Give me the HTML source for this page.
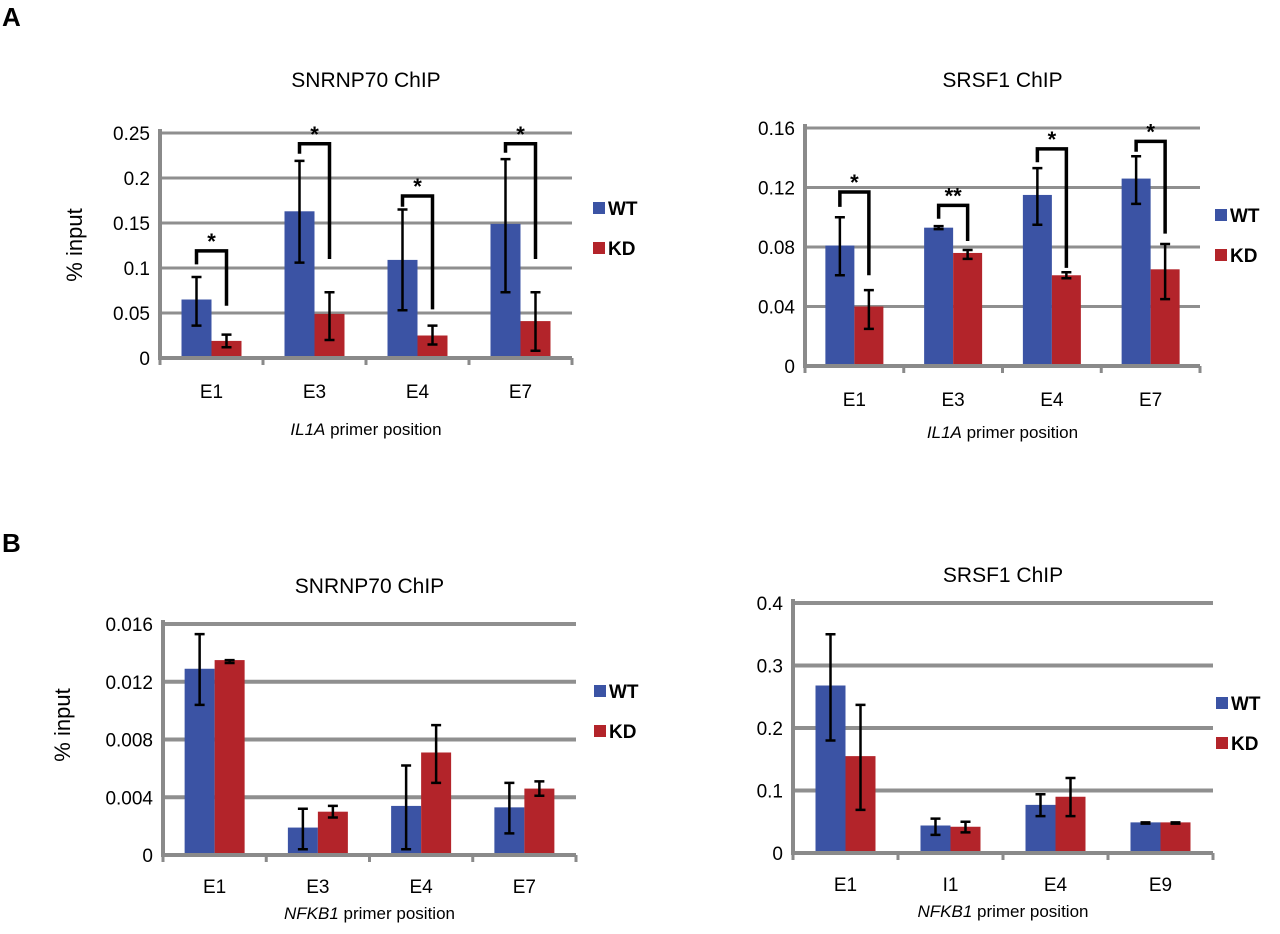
<!DOCTYPE html>
<html><head><meta charset="utf-8"><style>
body{margin:0;background:#fff;width:1280px;height:929px;overflow:hidden;font-family:"Liberation Sans",Arial,sans-serif}
svg text{font-family:"Liberation Sans",Arial,sans-serif}
</style></head><body>
<svg id="fig" width="1280" height="929" xmlns="http://www.w3.org/2000/svg">
<text x="2" y="26" font-size="26" font-weight="bold">A</text>
<text x="2" y="552" font-size="26" font-weight="bold">B</text>
</svg>
<script>
// Panel A left: SNRNP70 ChIP IL1A
const aLCats=["E1","E3","E4","E7"];
const aLWT=[0.065,0.163,0.109,0.149];
const aLWTlo=[0.036,0.106,0.053,0.073];
const aLWThi=[0.09,0.219,0.165,0.221];
const aLKD=[0.019,0.049,0.025,0.041];
const aLKDlo=[0.012,0.02,0.015,0.008];
const aLKDhi=[0.026,0.073,0.036,0.073];
const aLTicks=["0","0.05","0.1","0.15","0.2","0.25"];
const aLSig=["*","*","*","*"];
const aLBrTop=[0.119,0.238,0.18,0.238];
const aLBrL=[0.104,0.227,0.168,0.228];
const aLBrR=[0.058,0.11,0.054,0.11];
// Panel A right: SRSF1 ChIP IL1A
const aRCats=["E1","E3","E4","E7"];
const aRWT=[0.081,0.093,0.115,0.126];
const aRWTlo=[0.061,0.092,0.095,0.109];
const aRWThi=[0.1,0.094,0.133,0.141];
const aRKD=[0.04,0.076,0.061,0.065];
const aRKDlo=[0.025,0.072,0.059,0.045];
const aRKDhi=[0.051,0.078,0.063,0.082];
const aRTicks=["0","0.04","0.08","0.12","0.16"];
const aRSig=["*","**","*","*"];
const aRBrTop=[0.117,0.108,0.146,0.151];
const aRBrL=[0.107,0.099,0.137,0.144];
const aRBrR=[0.061,0.084,0.066,0.089];
// Panel B left: SNRNP70 ChIP NFKB1
const bLCats=["E1","E3","E4","E7"];
const bLWT=[0.0129,0.0019,0.0034,0.0033];
const bLWTlo=[0.0104,0.0004,0.0004,0.0015];
const bLWThi=[0.0153,0.0032,0.0062,0.005];
const bLKD=[0.0135,0.003,0.0071,0.0046];
const bLKDlo=[0.0133,0.0026,0.005,0.0041];
const bLKDhi=[0.0135,0.0034,0.009,0.0051];
const bLTicks=["0","0.004","0.008","0.012","0.016"];
// Panel B right: SRSF1 ChIP NFKB1
const bRCats=["E1","I1","E4","E9"];
const bRWT=[0.268,0.044,0.077,0.049];
const bRWTlo=[0.18,0.029,0.059,0.047];
const bRWThi=[0.35,0.055,0.094,0.049];
const bRKD=[0.155,0.042,0.09,0.049];
const bRKDlo=[0.069,0.033,0.059,0.047];
const bRKDhi=[0.237,0.05,0.12,0.049];
const bRTicks=["0","0.1","0.2","0.3","0.4"];

const NS="http://www.w3.org/2000/svg";
const svg=document.getElementById('fig');
function mk(tag,attrs,parent){const e=document.createElementNS(NS,tag);for(const k in attrs)e.setAttribute(k,attrs[k]);(parent||svg).appendChild(e);return e;}

function chart(c){
  const g=mk('g',{});
  
  
  const max=parseFloat(c.ticks[c.ticks.length-1]);
  const y=v=>c.y0-(v/max)*(c.y0-c.yTop);
  const gw=(c.x1-c.x0)/c.cats.length;
  const cx=i=>c.x0+gw*(i+0.5);
  const bw=c.bw;
  const t=mk('text',{x:(c.x0+c.x1)/2,y:c.titleY,'font-size':21,'text-anchor':'middle'},g);
  t.textContent=c.title;
  
  
  c.ticks.forEach((tk,i)=>{
    const yy=y(parseFloat(tk));
    if(i>0){const gl=mk('line',{x1:c.x0,x2:c.x1,y1:yy,y2:yy,stroke:'#8f8f8f','stroke-width':c.gridW},g);
      
      }
    const tl=mk('text',{x:c.x0-10,y:yy+7,'font-size':19,'text-anchor':'end'},g);
    tl.textContent=tk;
    
    
  });
  c.cats.forEach((cat,i)=>{
    const xc=cx(i);
    [[c.wt,c.wtlo,c.wthi,'#3b53a4',xc-bw],[c.kd,c.kdlo,c.kdhi,'#b3242a',xc]].forEach((s,k)=>{
      const v=s[0][i];
      const r=mk('rect',{x:s[4],y:y(v),width:bw,height:c.y0-y(v),fill:s[3]},g);
      
      
    });
    [[c.wtlo,c.wthi,xc-bw/2],[c.kdlo,c.kdhi,xc+bw/2]].forEach(s=>{
      const lo=y(s[0][i]),hi=y(s[1][i]),ex=s[2];
      const eb=mk('path',{d:`M${ex},${lo}V${hi}M${ex-5},${lo}H${ex+5}M${ex-5},${hi}H${ex+5}`,stroke:'#000','stroke-width':2.5,fill:'none'},g);
      
      
    });
    const xl=mk('text',{x:xc,y:c.y0+c.xlOff,'font-size':19,'text-anchor':'middle'},g);
    xl.textContent=cat;
    
    
    if(c.sig){
      const lx=xc-bw/2,rx=xc+bw/2,ty=y(c.brTop[i]);
      const br=mk('path',{d:`M${lx},${y(c.brL[i])}V${ty}H${rx}V${y(c.brR[i])}`,stroke:'#000','stroke-width':3.5,fill:'none'},g);
      
      
      const st=mk('text',{x:(lx+rx)/2,y:ty-2,'font-size':22,'font-weight':'bold','text-anchor':'middle'},g);
      st.textContent=c.sig[i];
      
      
    }
  });
  const ax=mk('path',{d:`M${c.x0},${c.yTop-4}V${c.y0}H${c.x1}`,stroke:'#8a8a8a','stroke-width':4,fill:'none'},g);
  
  
  for(let i=0;i<=c.cats.length;i++){
    const tm=mk('line',{x1:c.x0+gw*i,x2:c.x0+gw*i,y1:c.y0,y2:c.y0+7,stroke:'#8a8a8a','stroke-width':3},g);
    
    
  }
  const xt=mk('text',{x:(c.x0+c.x1)/2,y:c.y0+c.xtOff,'font-size':17,'text-anchor':'middle'},g);
  const it=mk('tspan',{'font-style':'italic'},xt);it.textContent=c.gene;
  const rest=mk('tspan',{},xt);rest.textContent=' primer position';
  
  
  if(c.ylab){
    const yl=mk('text',{x:c.ylab[0],y:c.ylab[1],'font-size':22,'text-anchor':'middle',transform:`rotate(-90 ${c.ylab[0]} ${c.ylab[1]})`},g);
    yl.textContent='% input';
    
    
  }
  [['WT','#3b53a4',0],['KD','#b3242a',1]].forEach(l=>{
    const ly=c.leg[1]+l[2]*40;
    const sq=mk('rect',{x:c.leg[0],y:ly-6,width:12,height:12,fill:l[1]},g);
    
    
    const lt=mk('text',{x:c.leg[0]+15,y:ly+7,'font-size':19,'font-weight':'bold'},g);
    lt.textContent=l[0];
    
    
  });
}

chart({name:'chart-a-snrnp70',title:'SNRNP70 ChIP',titleY:87,x0:160,x1:572,y0:358,yTop:133,bw:30,gridW:3,xlOff:40,xtOff:77,cats:aLCats,wt:aLWT,wtlo:aLWTlo,wthi:aLWThi,kd:aLKD,kdlo:aLKDlo,kdhi:aLKDhi,ticks:aLTicks,sig:aLSig,brTop:aLBrTop,brL:aLBrL,brR:aLBrR,gene:'IL1A',ylab:[82,245],leg:[593,208]});
chart({name:'chart-a-srsf1',title:'SRSF1 ChIP',titleY:87,x0:805,x1:1200,y0:366,yTop:128,bw:29,gridW:3,xlOff:40,xtOff:72,cats:aRCats,wt:aRWT,wtlo:aRWTlo,wthi:aRWThi,kd:aRKD,kdlo:aRKDlo,kdhi:aRKDhi,ticks:aRTicks,sig:aRSig,brTop:aRBrTop,brL:aRBrL,brR:aRBrR,gene:'IL1A',leg:[1215,215]});
chart({name:'chart-b-snrnp70',title:'SNRNP70 ChIP',titleY:593,x0:163,x1:576,y0:855,yTop:624,bw:30,gridW:4,xlOff:38,xtOff:64,cats:bLCats,wt:bLWT,wtlo:bLWTlo,wthi:bLWThi,kd:bLKD,kdlo:bLKDlo,kdhi:bLKDhi,ticks:bLTicks,gene:'NFKB1',ylab:[70,725],leg:[594,691]});
chart({name:'chart-b-srsf1',title:'SRSF1 ChIP',titleY:582,x0:793,x1:1213,y0:853,yTop:603,bw:30,gridW:4,xlOff:38,xtOff:64,cats:bRCats,wt:bRWT,wtlo:bRWTlo,wthi:bRWThi,kd:bRKD,kdlo:bRKDlo,kdhi:bRKDhi,ticks:bRTicks,gene:'NFKB1',leg:[1216,703]});
</script>
</body></html>
